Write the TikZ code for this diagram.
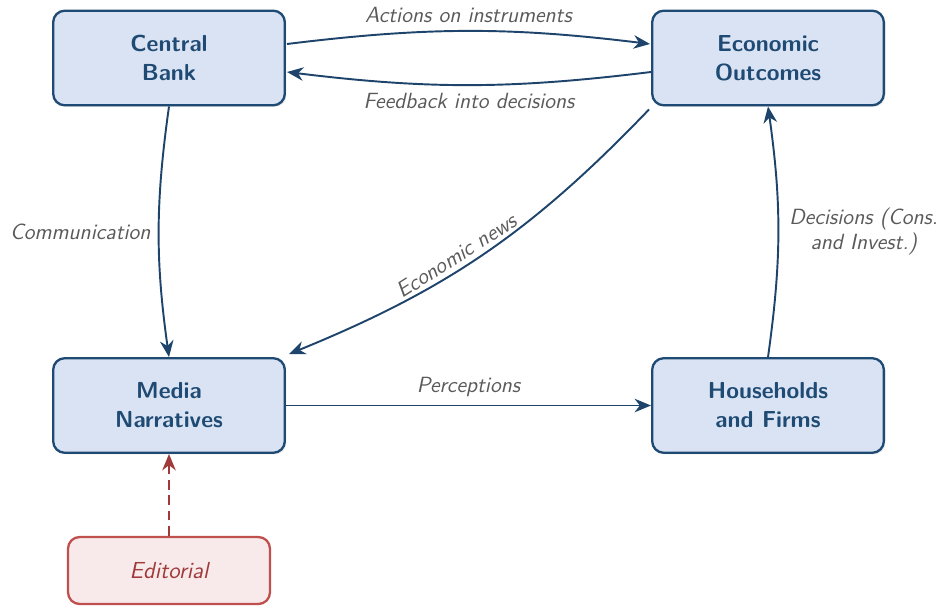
\documentclass[tikz,border=0pt]{standalone}
\usetikzlibrary{arrows.meta,shadows,calc}
\definecolor{boxfill}{HTML}{D9E3F3}
\definecolor{boxdraw}{HTML}{1F4A73}
\definecolor{edgecol}{HTML}{1F446B}
\definecolor{labelcol}{HTML}{5A5A5A}
\definecolor{edfill}{HTML}{F8EAEA}
\definecolor{eddraw}{HTML}{C0504D}
\definecolor{edtext}{HTML}{A0393A}
\begin{document}
\begin{tikzpicture}[x=0.518pt,y=0.518pt,
  mainbox/.style={draw=boxdraw, fill=boxfill, line width=1.2pt, rounded corners=6pt,
    minimum width=120pt, minimum height=49pt, align=center,
    font=\sffamily\bfseries\fontsize{12}{15}\selectfont, text=boxdraw,
    drop shadow={opacity=0.18, shadow xshift=0.8pt, shadow yshift=-0.8pt}},
  edbox/.style={draw=eddraw, fill=edfill, line width=1.2pt, rounded corners=6pt,
    minimum width=104.6pt, minimum height=34.7pt, align=center,
    font=\sffamily\slshape\large, text=edtext},
  link/.style={draw=edgecol, line width=1pt, -{Stealth[length=8.5pt,width=7pt,inset=2.7pt]}},
  edlink/.style={draw=edtext, line width=1pt, dashed, dash pattern=on 5pt off 3pt,
    -{Stealth[length=8.5pt,width=7pt,inset=2.7pt]}},
  lab/.style={font=\sffamily\slshape\fontsize{11.4}{13.2}\selectfont, text=labelcol, align=center}
]
\useasboundingbox (0,0) rectangle (943,-605);
\node[mainbox] (cb) at (169,-58) {Central\\Bank};
\node[mainbox] (eo) at (768,-58) {Economic\\Outcomes};
\node[mainbox] (mn) at (169,-405.5) {Media\\Narratives};
\node[mainbox] (hf) at (768,-405.5) {Households\\and Firms};
\node[edbox] (ed) at (169,-570.5) {Editorial};

\draw[link] ($(cb.east)+(1,14)$) to[bend left=7] node[lab, midway, above=0.5pt] {Actions on instruments} ($(eo.west)+(-1,14)$);
\draw[link] ($(eo.west)+(0,-14)$) to[bend left=7] node[lab, midway, below=0.5pt] {Feedback into decisions} ($(cb.east)+(1,-14)$);
\draw[link] (cb.south) to[bend right=8] node[lab, midway, left=0.5pt] {Communication} (mn.north);
\draw[link] ($(eo.south west)+(-2,-3)$) to[bend left=12] node[lab, pos=0.56, sloped, above=-1pt] {Economic news} ($(mn.north east)+(3,3)$);
\draw[link] (mn.east) -- node[lab, midway, above=0.5pt] {Perceptions} (hf.west);
\draw[link] (hf.north) to[bend right=8] node[lab, midway, right=2pt] {Decisions (Cons.\\and Invest.)} (eo.south);
\draw[edlink] (ed.north) -- (mn.south);
\end{tikzpicture}
\end{document}
